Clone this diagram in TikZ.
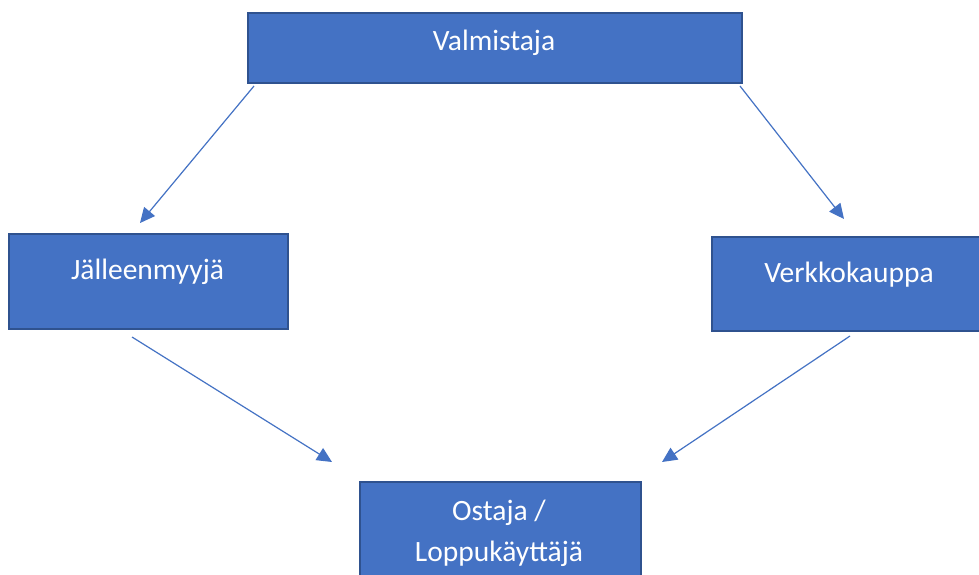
\documentclass[tikz,border=0pt]{standalone}
\usepackage{fontspec}
\setmainfont{Carlito}
\usetikzlibrary{arrows.meta,calc}
\definecolor{boxfill}{HTML}{4472C4}
\definecolor{boxline}{HTML}{2F528F}
\begin{document}
\begin{tikzpicture}[x=1pt,y=-1pt,
  box/.style={draw=boxline,fill=boxfill,line width=2pt,rectangle,inner sep=0pt,anchor=north west},
  label/.style={text=white,font=\fontsize{29.5}{41}\selectfont,anchor=base,inner sep=0pt,align=center},
  flow/.style={draw=boxfill,line width=1.2pt,-{Triangle[length=15pt,width=14pt]}}]
\clip (0,0) rectangle (979,574);
\fill[white] (0,0) rectangle (979,574);

% boxes
\node[box,minimum width=494pt,minimum height=70pt] (valm) at (247,12) {};
\node[box,minimum width=279pt,minimum height=95pt] (jal) at (8,233) {};
\node[box,minimum width=276pt,minimum height=94pt] (verk) at (711,236) {};
\node[box,minimum width=281pt,minimum height=110pt] (ost) at (359,481) {};

% texts (base anchor of a two-line node sits on its last line)
\node[label] (tvalm) at (494,50) {Valmistaja};
\node[label] (tjal) at (147.5,279) {Jälleenmyyjä};
\node[label] (tverk) at (849,282) {Verkkokauppa};
\node[label] (tost) at (499,561) {Ostaja /\\Loppukäyttäjä};

% connectors
\draw[flow] ($(valm.south west)+(7,2)$) -- ($(jal.north west)+(132,-10)$);
\draw[flow] ($(valm.south east)+(-3,2)$) -- ($(verk.north west)+(133,-17)$);
\draw[flow] ($(jal.south west)+(124,7)$) -- ($(ost.north west)+(-27,-19)$);
\draw[flow] ($(verk.south west)+(139,4)$) -- ($(ost.north east)+(20,-19)$);
\end{tikzpicture}
\end{document}
